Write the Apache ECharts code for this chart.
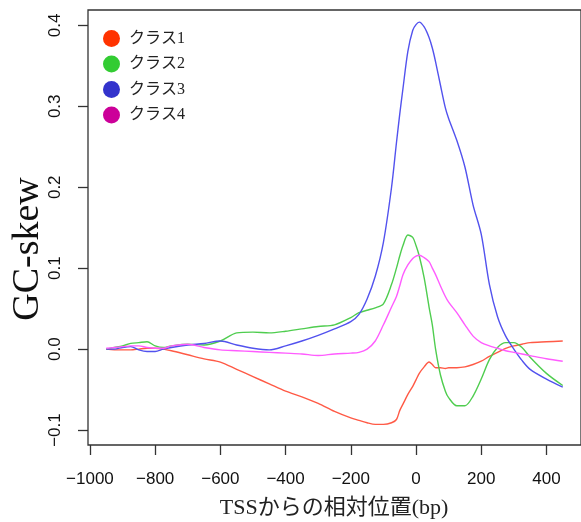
<!DOCTYPE html>
<html>
<head>
<meta charset="utf-8">
<script src="https://cdn.jsdelivr.net/npm/echarts@6/dist/echarts.min.js"></script>
<style>
html,body{margin:0;padding:0;background:#fff;}
#chart{width:581px;height:522px;}
</style>
</head>
<body>
<div id="chart"></div>
<script>
// ---- data ----
const positions = [-950,-925,-900,-875,-850,-825,-800,-775,-750,-700,-650,-600,-550,-500,-450,-400,-350,-300,-250,-200,-175,-150,-125,-100,-75,-60,-50,-40,-25,-10,0,10,25,40,50,60,75,90,100,125,150,175,200,225,250,275,300,325,350,400,450];

const class1 = [0.000,-0.001,-0.001,-0.001,0.000,0.001,0.001,0.000,-0.002,-0.007,-0.012,-0.016,-0.025,-0.034,-0.043,-0.052,-0.059,-0.067,-0.077,-0.085,-0.088,-0.091,-0.093,-0.093,-0.091,-0.087,-0.076,-0.068,-0.056,-0.046,-0.038,-0.030,-0.022,-0.016,-0.019,-0.023,-0.023,-0.024,-0.023,-0.023,-0.022,-0.019,-0.015,-0.009,-0.004,0.001,0.004,0.006,0.008,0.009,0.010];

const class2 = [0.000,0.002,0.004,0.007,0.008,0.009,0.004,0.002,0.004,0.006,0.005,0.010,0.020,0.021,0.020,0.022,0.025,0.028,0.030,0.039,0.045,0.048,0.051,0.056,0.080,0.100,0.115,0.128,0.141,0.138,0.128,0.115,0.088,0.052,0.030,0.000,-0.032,-0.052,-0.060,-0.070,-0.070,-0.058,-0.037,-0.013,0.002,0.008,0.008,0.002,-0.010,-0.030,-0.045];

const class3 = [0.000,0.000,0.002,0.003,-0.001,-0.003,-0.003,0.000,0.002,0.005,0.007,0.010,0.005,0.001,-0.001,0.004,0.010,0.017,0.025,0.034,0.043,0.062,0.090,0.132,0.200,0.255,0.290,0.322,0.368,0.394,0.401,0.404,0.398,0.385,0.372,0.355,0.326,0.298,0.285,0.258,0.225,0.178,0.142,0.080,0.040,0.016,0.000,-0.014,-0.025,-0.037,-0.047];

const class4 = [0.001,0.002,0.003,0.004,0.004,0.002,0.001,0.001,0.004,0.006,0.002,-0.001,-0.002,-0.003,-0.004,-0.005,-0.006,-0.008,-0.006,-0.005,-0.004,0.000,0.010,0.030,0.052,0.065,0.078,0.092,0.104,0.112,0.115,0.116,0.113,0.108,0.100,0.092,0.078,0.065,0.058,0.045,0.030,0.016,0.008,0.004,0.001,-0.002,-0.004,-0.006,-0.008,-0.012,-0.015];

const seriesNames = ['クラス1','クラス2','クラス3','クラス4'];
const xTicks = [-1000,-800,-600,-400,-200,0,200,400];
const yTicks = [-0.1,0.0,0.1,0.2,0.3,0.4];
const xTitle = 'TSSからの相対位置(bp)';
const yTitle = 'GC-skew';

// ---- styles ----
const legendColors = ['#ff3300','#33cc33','#3333cc','#cc0099'];
const lineColors = ['#ff5a46','#4fcd4f','#5252ee','#ff5cff'];
const allValues = [class1,class2,class3,class4];

const minus = s => s.replace('-', '\u2212');

const chart = echarts.init(document.getElementById('chart'), null, {renderer:'canvas'});
const option = {
  animation: false,
  backgroundColor: '#ffffff',
  grid: {left: 88, top: 10, right: -7, bottom: 77, show: true, borderColor: '#333', borderWidth: 1.3, backgroundColor: 'transparent'},
  legend: {
    orient: 'vertical', left: 98, top: 25, icon: 'circle',
    itemWidth: 17, itemHeight: 17, itemGap: 8.5,
    textStyle: {fontFamily: '"Liberation Serif","Noto Sans CJK JP",serif', fontSize: 16, color: '#222', padding: [0,0,0,4]},
    data: seriesNames
  },
  xAxis: {
    type: 'value', min: -1006, max: 506,
    axisLine: {show: false, onZero: false},
    splitLine: {show: false},
    axisTick: {show: true, inside: false, length: 10, lineStyle: {color: '#333', width: 1.3}, customValues: xTicks},
    axisLabel: {customValues: xTicks, margin: 26, fontFamily: '"Liberation Sans",Arial,sans-serif', fontSize: 17, color: '#111',
      formatter: v => minus(String(v))}
  },
  yAxis: {
    type: 'value', min: -0.1185, max: 0.419,
    axisLine: {show: false, onZero: false},
    splitLine: {show: false},
    axisTick: {show: true, inside: false, length: 10, lineStyle: {color: '#333', width: 1.3}, customValues: yTicks},
    axisLabel: {customValues: yTicks, rotate: 90, margin: 24, fontFamily: '"Liberation Sans",Arial,sans-serif', fontSize: 17, color: '#111',
      formatter: v => minus(Number(v).toFixed(1))}
  },
  graphic: [
    {type: 'text', x: 28, y: 249, rotation: Math.PI/2,
      style: {text: yTitle, font: '38px "Liberation Serif","Times New Roman",serif', fill: '#111', textAlign: 'center', textVerticalAlign: 'middle', align: 'center', verticalAlign: 'middle'}},
    {type: 'text', x: 334, y: 508,
      style: {text: xTitle, font: '22px "Liberation Serif","Noto Sans CJK JP",serif', fill: '#222', textAlign: 'center', textVerticalAlign: 'middle', align: 'center', verticalAlign: 'middle'}}
  ],
  series: seriesNames.map((name, i) => ({
    name: name,
    type: 'line',
    showSymbol: false,
    symbol: 'none',
    smooth: 0.3,
    itemStyle: {color: legendColors[i]},
    lineStyle: {color: lineColors[i], width: 1.4},
    data: positions.map((p, k) => [p, allValues[i][k]])
  }))
};
chart.setOption(option);
</script>
</body>
</html>
